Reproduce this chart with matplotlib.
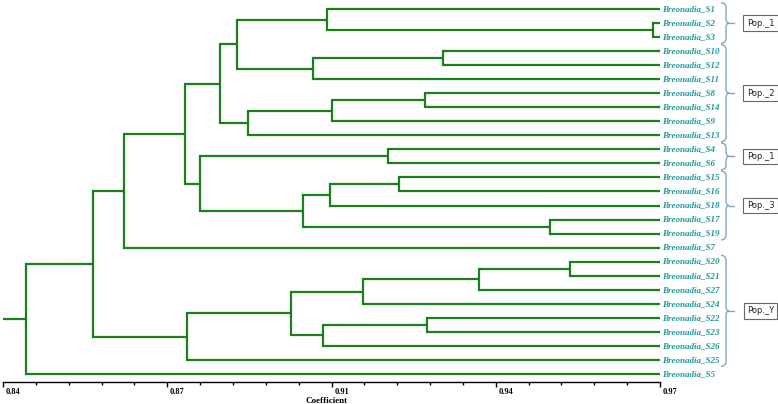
import matplotlib.pyplot as plt
from matplotlib.path import Path
from matplotlib.patches import PathPatch
from matplotlib.transforms import ScaledTranslation
import numpy as np

# Leaf order (top to bottom)
order = ["S1", "S2", "S3", "S10", "S12", "S11", "S8", "S14", "S9", "S13",
         "S4", "S6", "S15", "S16", "S18", "S17", "S19", "S7",
         "S20", "S21", "S27", "S24", "S22", "S23", "S26", "S25", "S5"]

# Merges: (child a, child b, coefficient); new node ids are n0, n1, ...
merges = [
    ("S2", "S3", 0.9687),    # n0
    ("S1", "n0", 0.9041),    # n1
    ("S10", "S12", 0.9270),  # n2
    ("n2", "S11", 0.9013),   # n3
    ("n1", "n3", 0.8863),    # n4
    ("S8", "S14", 0.9235),   # n5
    ("n5", "S9", 0.9051),    # n6
    ("n6", "S13", 0.8885),   # n7
    ("n4", "n7", 0.8829),    # n8
    ("S4", "S6", 0.9162),    # n9
    ("S15", "S16", 0.9184),  # n10
    ("n10", "S18", 0.9047),  # n11
    ("S17", "S19", 0.9482),  # n12
    ("n11", "n12", 0.8994),  # n13
    ("n9", "n13", 0.8789),   # n14
    ("n8", "n14", 0.8760),   # n15
    ("n15", "S7", 0.8639),   # n16
    ("S20", "S21", 0.9522),  # n17
    ("n17", "S27", 0.9342),  # n18
    ("n18", "S24", 0.9112),  # n19
    ("S22", "S23", 0.9238),  # n20
    ("n20", "S26", 0.9033),  # n21
    ("n19", "n21", 0.8969),  # n22
    ("n22", "S25", 0.8765),  # n23
    ("n16", "n23", 0.8578),  # n24
    ("n24", "S5", 0.8445),   # n25
]

# Population groups (first leaf, last leaf)
group_labels = ["Pop._1", "Pop._2", "Pop._1", "Pop._3", "Pop._Y"]
group_first = ["S1", "S10", "S4", "S15", "S20"]
group_last = ["S3", "S13", "S6", "S19", "S25"]

tick_values = [0.84, 0.8725, 0.905, 0.9375, 0.97]
tick_labels = ["0.84", "0.87", "0.91", "0.94", "0.97"]

xmin, xmax = 0.84, 0.97
line_color = "#1b7f1b"
label_color = "#1f9999"
brace_color = "#8aa4c0"


def px(p):
    # pixel column -> coefficient
    return xmin + (p - 3) * (xmax - xmin) / 657


fig = plt.figure(figsize=(7.78, 4.04), dpi=100)
ax = fig.add_axes([3 / 778, 22 / 404, 657 / 778, 382 / 404])

# Node positions
pos = {name: (xmax, i) for i, name in enumerate(order)}
for k, (a, b, h) in enumerate(merges):
    xa, ya = pos[a]
    xb, yb = pos[b]
    ax.plot([xa, h, h, xb], [ya, ya, yb, yb], color=line_color, lw=1.6,
            solid_joinstyle="miter", solid_capstyle="butt")
    pos["n%d" % k] = (h, (ya + yb) / 2)

# Root stem
xr, yr = pos["n%d" % (len(merges) - 1)]
ax.plot([xmin, xr], [yr, yr], color=line_color, lw=1.6, solid_capstyle="butt")

# Leaf labels
for i, name in enumerate(order):
    ax.text(px(662.5), i, "Breonadia_" + name, ha="left", va="center",
            fontsize=6.5, color=label_color, family="Liberation Serif",
            fontweight="bold", style="italic", clip_on=False)


# Curly braces and population boxes
def brace(y0, y1):
    x0, xm, x1, x2 = px(721), px(726), px(729), px(734)
    ym = (y0 + y1) / 2
    r = 0.35
    verts = [(x0, y0), (xm, y0), (xm, y0 + r),
             (xm, ym - r), (xm, ym), (x1, ym),
             (xm, ym), (xm, ym + r),
             (xm, y1 - r), (xm, y1), (x0, y1)]
    codes = [Path.MOVETO, Path.CURVE3, Path.CURVE3,
             Path.LINETO, Path.CURVE3, Path.CURVE3,
             Path.CURVE3, Path.CURVE3,
             Path.LINETO, Path.CURVE3, Path.CURVE3]
    ax.add_patch(PathPatch(Path(verts, codes), fc="none", ec=brace_color,
                           lw=1, clip_on=False))
    ax.plot([x1, x2], [ym, ym], color=brace_color, lw=1, clip_on=False)
    return ym


for lab, first, last in zip(group_labels, group_first, group_last):
    ym = brace(order.index(first) - 0.45, order.index(last) + 0.45)
    ax.text(px(760.5), ym, lab, ha="center", va="center", fontsize=6,
            family="DejaVu Sans", color="#222222", clip_on=False,
            bbox=dict(boxstyle="square,pad=0.4", fc="white", ec="#666666",
                      lw=0.8))

# Axes and ticks
ax.set_xlim(xmin, xmax)
ax.set_ylim(26 + 8 / 14.04, -9 / 14.04)
for s in ["top", "right", "left"]:
    ax.spines[s].set_visible(False)
ax.spines["bottom"].set_linewidth(1)
ax.set_yticks([])
ax.set_xticks(tick_values, labels=tick_labels)
ax.set_xticks(np.linspace(xmin, xmax, 21), minor=True)
ax.tick_params(axis="x", which="major", length=3.6, width=1, pad=0.8,
               labelsize=6)
ax.tick_params(axis="x", which="minor", length=1.8, width=1)
offset = ScaledTranslation(2 / 72, 0, fig.dpi_scale_trans)
for lab in ax.get_xticklabels():
    lab.set_ha("left")
    lab.set_family("Liberation Serif")
    lab.set_fontweight("bold")
    lab.set_transform(lab.get_transform() + offset)
ax.set_xlabel("Coefficient", fontsize=6.5, family="Liberation Serif",
              fontweight="bold")
ax.xaxis.set_label_coords(0.493, -0.038)

fig.savefig("out.png", dpi=100)
